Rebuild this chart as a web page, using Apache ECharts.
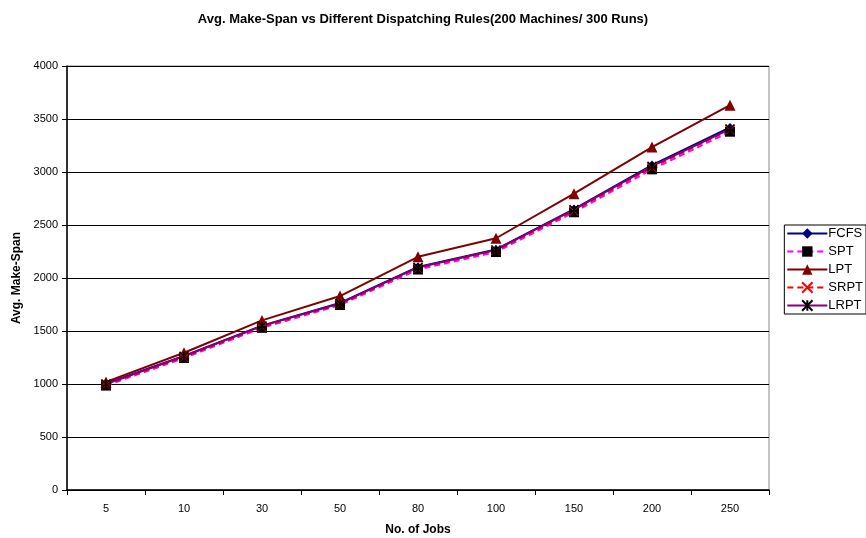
<!DOCTYPE html>
<html>
<head>
<meta charset="utf-8">
<script src="https://cdn.jsdelivr.net/npm/echarts@6/dist/echarts.min.js"></script>
<style>
  html, body { margin: 0; padding: 0; background: #fff; }
  #chart { width: 866px; height: 538px; }
</style>
</head>
<body>
<div id="chart"></div>
<script>
// data
const jobs = ["5", "10", "30", "50", "80", "100", "150", "200", "250"];
const fcfs = [1005, 1265, 1550, 1765, 2105, 2270, 2650, 3065, 3420];
const spt = [985, 1245, 1530, 1745, 2080, 2245, 2620, 3025, 3380];
const lpt = [1020, 1295, 1600, 1830, 2200, 2375, 2795, 3235, 3630];
const srpt = [995, 1255, 1540, 1755, 2095, 2260, 2635, 3045, 3400];
const lrpt = [1000, 1262, 1548, 1760, 2100, 2265, 2645, 3055, 3405];

const font = "Liberation Sans, Arial, sans-serif";
const crossPath = "path://M0,0L10,10M10,0L0,10";
const starPath = "path://M0,0L10,10M10,0L0,10M5,0L5,10";

const chart = echarts.init(document.getElementById("chart"));

function lineSeries(name, data, color, dashed, symbol, symbolSize, markColor, strokeMark) {
  return {
    name: name,
    type: "line",
    data: data,
    symbol: symbol,
    symbolSize: symbolSize,
    showAllSymbol: true,
    lineStyle: { color: color, width: 2, type: dashed ? [6, 4] : "solid" },
    itemStyle: strokeMark
      ? { color: "rgba(0,0,0,0)", borderColor: markColor, borderWidth: 1.5 }
      : { color: markColor, borderColor: markColor, borderWidth: 0 },
    emphasis: { disabled: true },
    animation: false
  };
}

const option = {
  backgroundColor: "#fff",
  title: {
    text: "Avg. Make-Span vs Different Dispatching Rules(200 Machines/ 300 Runs)",
    left: 418,
    textAlign: "center",
    top: 8,
    textStyle: { fontFamily: font, fontSize: 13, fontWeight: "bold", color: "#000" }
  },
  grid: {
    left: 67,
    right: 97,
    top: 66,
    bottom: 48,
    outerBoundsMode: "none",
    containLabel: false,
    show: true,
    borderColor: "#888",
    borderWidth: 1
  },
  legend: {
    orient: "vertical",
    right: 0,
    top: 225,
    itemWidth: 40,
    itemHeight: 13,
    itemGap: 5,
    padding: [2, 3, 2, 2],
    borderColor: "#000",
    borderWidth: 1,
    textStyle: { fontFamily: font, fontSize: 13, color: "#000", padding: [0, 0, 0, -4] },
    data: ["FCFS", "SPT", "LPT", "SRPT", "LRPT"]
  },
  xAxis: {
    type: "category",
    data: jobs,
    boundaryGap: true,
    name: "No. of Jobs",
    nameLocation: "middle",
    nameGap: 34,
    nameTextStyle: { fontFamily: font, fontSize: 12, fontWeight: "bold", color: "#000" },
    axisLine: { lineStyle: { color: "#000", width: 1.5 } },
    axisTick: { show: true, length: 5, alignWithLabel: false, lineStyle: { color: "#000" } },
    axisLabel: { fontFamily: font, fontSize: 11, color: "#000", margin: 13 },
    splitLine: { show: false }
  },
  yAxis: {
    type: "value",
    min: 0,
    max: 4000,
    interval: 500,
    name: "Avg. Make-Span",
    nameLocation: "middle",
    nameGap: 44,
    nameTextStyle: { fontFamily: font, fontSize: 12, fontWeight: "bold", color: "#000" },
    axisLine: { show: true, lineStyle: { color: "#000", width: 1.5 } },
    axisTick: { show: true, length: 5, lineStyle: { color: "#000" } },
    axisLabel: {
      fontFamily: font, fontSize: 11, color: "#000", margin: 9,
      formatter: function (v) { return String(v); }
    },
    splitLine: { show: true, lineStyle: { color: "#000", width: 1 } }
  },
  series: [
    lineSeries("FCFS", fcfs, "#000080", false, "diamond", 9, "#000080", false),
    lineSeries("SPT", spt, "#ff00ff", true, "rect", 10, "#000", false),
    lineSeries("LPT", lpt, "#800000", false, "triangle", 11, "#800000", false),
    lineSeries("SRPT", srpt, "#ff0000", true, crossPath, 9, "#ff0000", true),
    lineSeries("LRPT", lrpt, "#800080", false, starPath, 9, "#000", true)
  ]
};

chart.setOption(option);
</script>
</body>
</html>
